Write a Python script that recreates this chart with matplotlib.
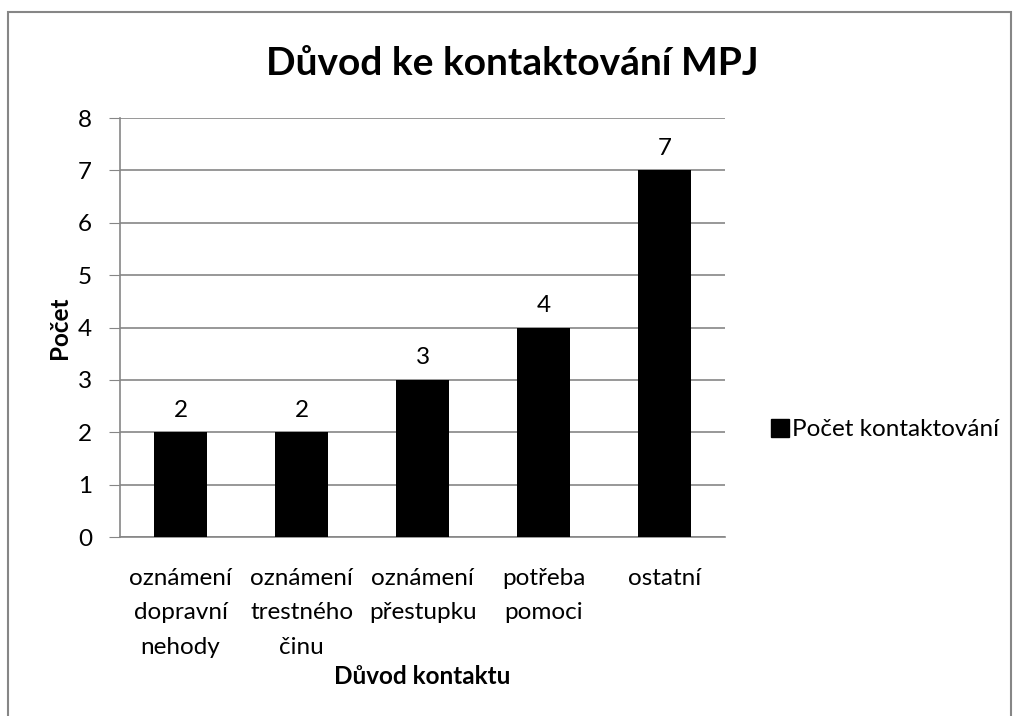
import matplotlib.pyplot as plt
from matplotlib.patches import Rectangle
from matplotlib.lines import Line2D

plt.rcParams['font.family'] = ['Lato', 'DejaVu Sans']

categories = ['oznámení\ndopravní\nnehody', 'oznámení\ntrestného\nčinu',
              'oznámení\npřestupku', 'potřeba\npomoci', 'ostatní']
values = [2, 2, 3, 4, 7]
series_name = 'Počet kontaktování'

fs = 17.5

fig = plt.figure(figsize=(10.14, 7.16), dpi=100)
ax = fig.add_axes([0.1183, 0.25, 0.597, 0.585])

x = range(len(categories))
bars = ax.bar(x, values, width=0.44, color='black', zorder=3)
for b, v in zip(bars, values):
    ax.text(b.get_x() + b.get_width() / 2, v + 0.22, str(v),
            ha='center', va='bottom', fontsize=fs)

ax.set_xlim(-0.5, len(categories) - 0.5)
ax.set_ylim(0, 8)
ax.set_yticks(range(0, 9))
ax.set_xticks(list(x))
ax.set_xticklabels(categories, fontsize=fs, linespacing=1.8)
ax.yaxis.grid(True, color='#868686', linewidth=1.2, zorder=0)
for s in ['top', 'right']:
    ax.spines[s].set_visible(False)
ax.spines['left'].set_color('#868686')
ax.spines['bottom'].set_color('#868686')
ax.spines['left'].set_linewidth(1.2)
ax.spines['bottom'].set_linewidth(1.2)
ax.tick_params(axis='y', length=8, color='#868686', labelsize=fs, pad=12)
ax.tick_params(axis='x', length=0, pad=22)

ax.set_ylabel('Počet', fontsize=fs, fontweight='bold', labelpad=5)
ax.set_xlabel('Důvod kontaktu', fontsize=fs, fontweight='bold', labelpad=5)

fig.text(0.505, 0.912, 'Důvod ke kontaktování MPJ', ha='center', va='center',
         fontsize=28, fontweight='bold')

handle = Line2D([], [], marker='s', color='black', linestyle='none', markersize=13)
fig.legend([handle], [series_name], loc='center left', bbox_to_anchor=(0.736, 0.40),
           frameon=False, fontsize=fs, handletextpad=0.0, handlelength=1.0)

fig.patches.append(Rectangle((8 / 1014, -0.05), 1003 / 1014, 1.05 - 12 / 716,
                             transform=fig.transFigure, fill=False,
                             edgecolor='#868686', linewidth=1.5))

fig.savefig('out.png', dpi=100)
